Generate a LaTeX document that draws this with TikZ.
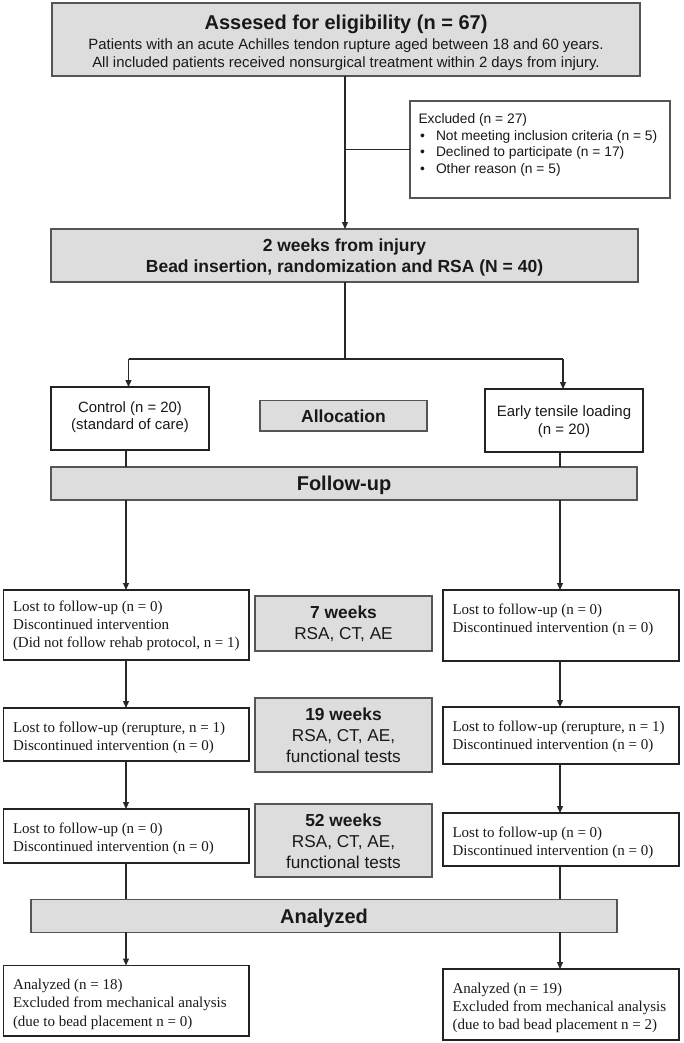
\documentclass[tikz,border=0pt]{standalone}
\usepackage{fontspec}
\setmainfont{Liberation Serif}
\newfontfamily\arialf{Liberation Sans}
\usetikzlibrary{arrows.meta}
\definecolor{gfill}{RGB}{221,221,221}
\definecolor{gborder}{RGB}{85,85,85}
\definecolor{wborder}{RGB}{35,35,35}
\definecolor{lcol}{RGB}{40,40,40}
\definecolor{txt}{RGB}{25,25,25}
\newcommand\tbox[3]{\parbox[c][#1][t]{#2}{#3}}
\newcommand\bul{\makebox[17.5pt][l]{\hspace{1.5pt}\textbullet}}
\newcommand\tms{\raggedright\fontsize{15}{18.3}\selectfont\rule{0pt}{24pt}}
\begin{document}
\begin{tikzpicture}[x=1pt,y=-1pt,
 graybox/.style={draw=gborder,fill=gfill,line width=1.3pt,inner sep=0pt,outer sep=0pt,text=txt},
 wbox/.style={draw=wborder,fill=white,line width=1.8pt,inner ysep=0pt,inner xsep=9.5pt,outer sep=0pt,text=txt},
 cbox/.style={wbox,inner xsep=0pt},
 ebox/.style={cbox,line width=1.4pt},
 xbox/.style={draw=gborder,fill=white,line width=1.1pt,inner ysep=0pt,inner xsep=8.5pt,outer sep=0pt,text=txt},
 conn/.style={draw=lcol,line width=1.2pt},
 arr/.style={conn,-{Triangle[length=7pt,width=6pt]}}]
\fill[white] (0,0) rectangle (683,1043);
\useasboundingbox (0,0) rectangle (683,1043);

% column coordinates
\coordinate (split) at (345,359);
\coordinate (splitL) at (128.5,359);
\coordinate (splitR) at (563,359);
\coordinate (cL) at (126,0);
\coordinate (cR) at (560,0);

\node[graybox] (top) at (346,39.5) {\tbox{73pt}{588pt}{\centering\arialf\fontsize{14.9}{17.7}\selectfont
\rule{0pt}{27pt}{\fontsize{20}{20}\selectfont\bfseries Assesed for eligibility (n = 67)}\\[2.3pt]
Patients with an acute Achilles tendon rupture aged between 18 and 60 years.\\
All included patients received nonsurgical treatment within 2 days from injury.}};

\node[xbox] (excl) at (540,149.5) {\tbox{97pt}{243pt}{\raggedright\arialf\fontsize{13.8}{16.5}\selectfont
\rule{0pt}{23pt}Excluded (n = 27)\\
\bul Not meeting inclusion criteria (n = 5)\\
\bul Declined to participate (n = 17)\\
\bul Other reason (n = 5)}};

\node[graybox] (box2) at (344.5,255.5) {\tbox{53pt}{587pt}{\centering\arialf\bfseries\fontsize{17.5}{21}\selectfont
\rule{0pt}{22.7pt}2 weeks from injury\\
Bead insertion, randomization and RSA (N = 40)}};

\node[cbox] (ctrl) at (130,418.5) {\tbox{63pt}{158pt}{\centering\arialf\fontsize{14.9}{17.4}\selectfont
\rule{0pt}{25.3pt}Control (n = 20)\\
(standard of care)}};

\node[graybox] (alloc) at (343.5,415.85) {\tbox{30.3pt}{167pt}{\centering\arialf\bfseries\fontsize{17.5}{20}\selectfont
\rule{0pt}{22pt}Allocation}};

\node[ebox] (early) at (564,420.5) {\tbox{63pt}{158pt}{\centering\arialf\fontsize{15}{18.3}\selectfont
\rule{0pt}{27pt}Early tensile loading\\
(n = 20)}};

\node[graybox] (fu) at (344,483.5) {\tbox{33pt}{586pt}{\centering\arialf\bfseries\fontsize{20}{22}\selectfont
\rule{0pt}{23.7pt}Follow-up}};

% 7 weeks row
\node[wbox] (L1) at (126.25,625) {\tbox{70pt}{226.5pt}{\raggedright\fontsize{15}{18.3}\selectfont\rule{0pt}{21pt}Lost to follow-up (n = 0)\\
Discontinued intervention\\
(Did not follow rehab protocol, n = 1)}};
\node[graybox] (w7) at (343.5,623.5) {\tbox{55pt}{177pt}{\centering\arialf\fontsize{17.2}{21}\selectfont
\rule{0pt}{22.3pt}{\bfseries\fontsize{17.4}{21}\selectfont 7 weeks}\\
RSA, CT, AE}};
\node[wbox] (R1) at (561,625.5) {\tbox{71pt}{217pt}{\tms Lost to follow-up (n = 0)\\
Discontinued intervention (n = 0)}};

% 19 weeks row
\node[wbox] (L2) at (126.25,734.5) {\tbox{53pt}{226.5pt}{\tms Lost to follow-up (rerupture, n = 1)\\
Discontinued intervention (n = 0)}};
\node[graybox] (w19) at (343.5,735) {\tbox{74pt}{177pt}{\centering\arialf\fontsize{17.2}{21}\selectfont
\rule{0pt}{22.7pt}{\bfseries\fontsize{17.4}{21}\selectfont 19 weeks}\\
RSA, CT, AE,\\
functional tests}};
\node[wbox] (R2) at (561,735.5) {\tbox{57pt}{217pt}{\tms Lost to follow-up (rerupture, n = 1)\\
Discontinued intervention (n = 0)}};

% 52 weeks row
\node[wbox] (L3) at (126.25,836) {\tbox{54pt}{226.5pt}{\tms Lost to follow-up (n = 0)\\
Discontinued intervention (n = 0)}};
\node[graybox] (w52) at (343.5,840.5) {\tbox{73pt}{177pt}{\centering\arialf\fontsize{17.2}{21}\selectfont
\rule{0pt}{22.7pt}{\bfseries\fontsize{17.4}{21}\selectfont 52 weeks}\\
RSA, CT, AE,\\
functional tests}};
\node[wbox] (R3) at (561,839.5) {\tbox{53pt}{217pt}{\tms Lost to follow-up (n = 0)\\
Discontinued intervention (n = 0)}};

\node[graybox] (an) at (324,915.8) {\tbox{33pt}{586pt}{\centering\arialf\bfseries\fontsize{20}{22}\selectfont
\rule{0pt}{24.4pt}Analyzed}};

\node[wbox] (L4) at (126.25,1000.75) {\tbox{70.5pt}{226.5pt}{\tms Analyzed (n = 18)\\
Excluded from mechanical analysis\\
(due to bead placement n = 0)}};
\node[wbox] (R4) at (561,1004.5) {\tbox{71pt}{217pt}{\tms Analyzed (n = 19)\\
Excluded from mechanical analysis\\
(due to bad bead placement n = 2)}};

% connectors
\draw[arr] (top.south -| split) -- (box2.north -| split);
\draw[conn] (excl.west) -- (excl.west -| split);
\draw[conn] (box2.south -| split) -- (split);
\draw[conn] (splitL) -- (splitR);
\draw[arr] (splitL) -- (ctrl.north -| splitL);
\draw[arr] (splitR) -- (early.north -| splitR);
\draw[conn] (ctrl.south -| cL) -- (fu.north -| cL);
\draw[conn] (early.south -| cR) -- (fu.north -| cR);
\draw[arr] (fu.south -| cL) -- (L1.north -| cL);
\draw[arr] (fu.south -| cR) -- (R1.north -| cR);
\draw[arr] (L1.south -| cL) -- (L2.north -| cL);
\draw[arr] (R1.south -| cR) -- (R2.north -| cR);
\draw[arr] (L2.south -| cL) -- (L3.north -| cL);
\draw[arr] (R2.south -| cR) -- (R3.north -| cR);
\draw[conn] (L3.south -| cL) -- (an.north -| cL);
\draw[conn] (R3.south -| cR) -- (an.north -| cR);
\draw[arr] (an.south -| cL) -- (L4.north -| cL);
\draw[arr] (an.south -| cR) -- (R4.north -| cR);
\end{tikzpicture}
\end{document}
